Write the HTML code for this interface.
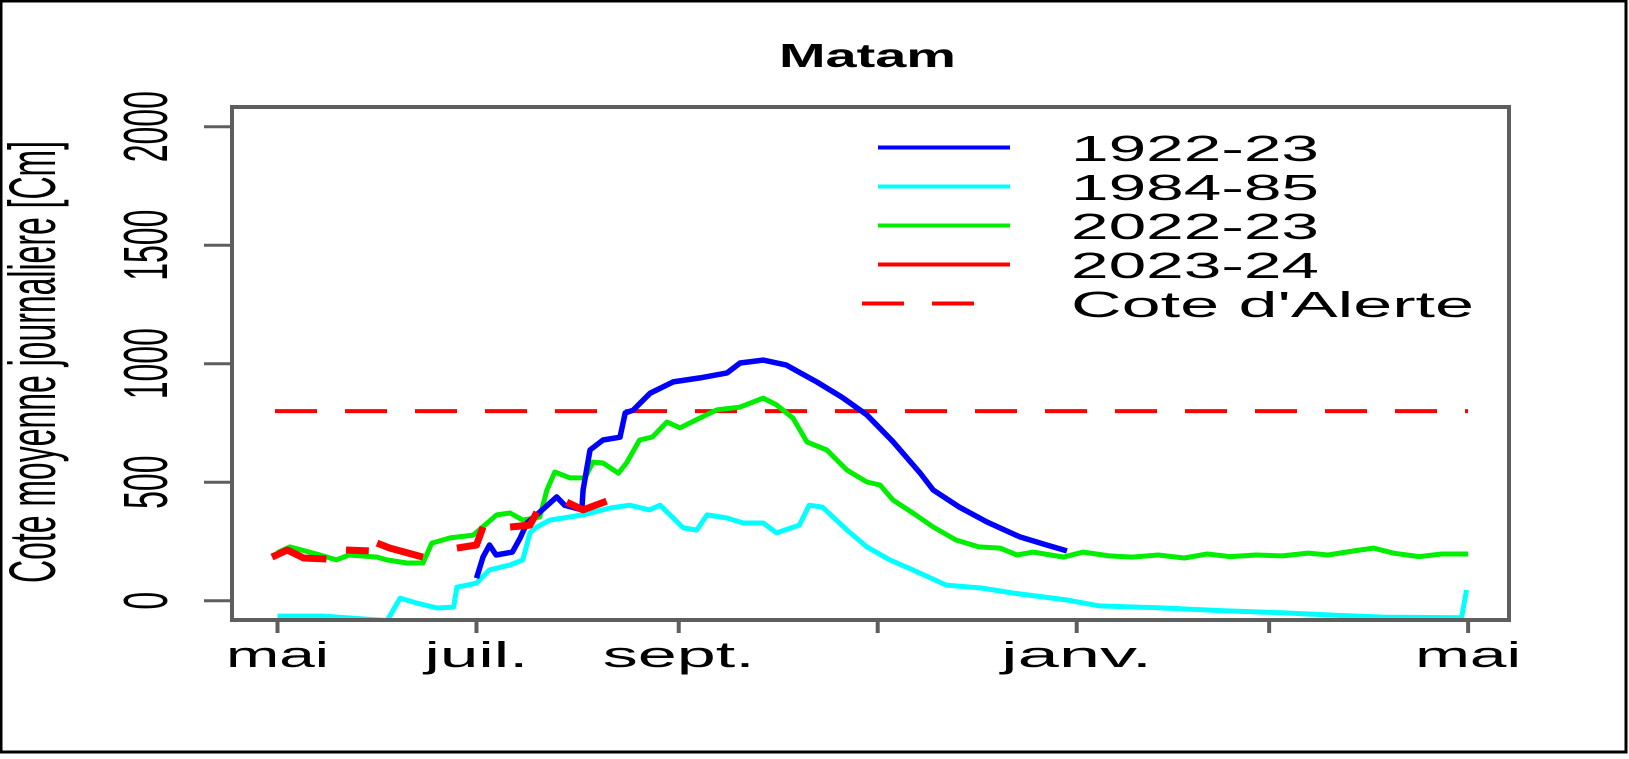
<!DOCTYPE html>
<html><head><meta charset="utf-8"><style>
html,body{margin:0;padding:0;background:#fff;}
svg{display:block;}
text{font-family:"Liberation Sans",sans-serif;fill:#000;}
</style></head><body>
<svg id="chart" width="1629" height="759" viewBox="0 0 1629 759">
<rect x="1" y="1" width="1625" height="751" fill="#fff" stroke="#000" stroke-width="3"/>
<defs><clipPath id="pc"><rect x="232" y="107" width="1277" height="513"/></clipPath></defs>
<text x="779" y="67" font-size="33" font-weight="bold" textLength="177" lengthAdjust="spacingAndGlyphs">Matam</text>
<text transform="translate(55,583) rotate(-90)" font-size="66" textLength="442" lengthAdjust="spacingAndGlyphs">Cote moyenne journaliere [Cm]</text>
<g id="series" clip-path="url(#pc)"></g>
<g id="axes"></g>
<g id="legend"></g>
</svg>
<script>
const xTickDays=[0,61,123,184,245,304,365];
const xTickLabels=["mai","juil.","sept.","","janv.","","mai"];
const xTickLabelWidths=[103,104,152,0,151,0,106];
const yTickVals=[0,500,1000,1500,2000];
const alertLevel=800;
const blueDays=[61,63,65,67,72,74.4,76.5,80.4,85.6,88,93.3,93.7,95.8,99.8,105,106.6,109,114.3,121.3,129.5,137.8,141.8,148.9,156,165.3,173,180.7,188.7,197,201,209,217.5,227.6,235.8,242];
const blueVals=[95,184,235,193,205,265,328,374,438,403,383,467,636,678,690,792,804,876,923,940,961,1003,1015,994,923,859,784,671,539,467,395,332,269,235,210];
const cyanDays=[0,14,33.6,37.6,42.7,48.9,54,55,61,65,71.3,75.2,77.4,79.5,83.5,93.7,102,108,114,117.3,124.4,128.5,131.7,137.8,142.8,148.9,153,160,163,167,174.6,180.7,187.7,194.8,205,216,225.6,242,252,270,290,308,325,339,363,364.5];
const cyanVals=[-65,-65,-84,11,-10,-31,-27,57,74,130,151,172,286,311,340,362,391,403,383,403,307,298,362,349,328,328,286,319,403,395,298,227,172,130,66,53,32,3,-22,-30,-42,-51,-62,-69,-72,45];
const greenDays=[0,3.8,12,18,22,30.5,33.5,39.7,44.6,47.3,52.9,60,67.2,71.3,75.2,80.4,82.6,85,89.7,94.3,96.7,99.8,104.5,107,111,115,119.4,123.4,129.5,134.7,141.8,148.9,153,158,162.3,168.4,174.6,180.7,184.7,188.7,194.8,201,208,215,221.5,226.7,231.7,241,247,255,262,270,278,285,292,300,308,316,322,330,336,342,350,357,365];
const greenVals=[203,227,197,172,193,184,172,159,159,243,265,277,362,370,340,353,467,543,518,518,585,581,538,581,678,691,754,729,771,805,817,855,826,771,670,636,551,501,488,425,370,311,256,227,222,193,205,184,205,189,184,193,180,197,186,193,189,201,193,210,222,201,186,197,197];
const redDays=[-1.7,3,8,15,null,21,28,null,30.5,34.5,44.6,null,55,61,63,null,71.3,77.4,79.5,null,88.7,93.7,100.9];
const redVals=[184,214,180,176,null,214,210,null,243,222,184,null,222,235,311,null,311,319,374,null,416,383,420];
const legendLabels=["1922-23","1984-85","2022-23","2023-24","Cote d'Alerte"];
const legendColors=["#0000ff","#00ffff","#00ee00","#ff0000","#ff0000"];

const NS="http://www.w3.org/2000/svg";
const xS=d=>277.5+d*3.262;
const yS=v=>600.7-v*0.237;
function mk(tag,attrs,parent){const e=document.createElementNS(NS,tag);for(const k in attrs)e.setAttribute(k,attrs[k]);parent.appendChild(e);return e;}
const sg=document.getElementById('series'),ag=document.getElementById('axes'),lg=document.getElementById('legend');

function pathOf(days,vals){let d="",pen=false;for(let i=0;i<days.length;i++){if(days[i]===null){pen=false;continue;}d+=(pen?"L":"M")+xS(days[i]).toFixed(1)+","+yS(vals[i]).toFixed(1);pen=true;}return d;}

const al=mk('line',{x1:275,x2:1468,y1:yS(alertLevel),y2:yS(alertLevel),stroke:'#ff0000','stroke-width':4,'stroke-dasharray':'42 28'},sg);


const specs=[[cyanDays,cyanVals,'#00ffff',5,'series-1984-85'],[greenDays,greenVals,'#00ee00',5,'series-2022-23'],[blueDays,blueVals,'#0000ff',5.5,'series-1922-23'],[redDays,redVals,'#ff0000',7,'series-2023-24']];
for(const s of specs){
  const p=mk('path',{d:pathOf(s[0],s[1]),fill:'none',stroke:s[2],'stroke-width':s[3],'stroke-linejoin':'round'},sg);
  
  
}
const fr=mk('rect',{x:232,y:107,width:1277,height:513,fill:'none',stroke:'#5e5e5e','stroke-width':4},ag);


yTickVals.forEach(v=>{
  const t=mk('line',{x1:204,x2:232,y1:yS(v),y2:yS(v),stroke:'#5e5e5e','stroke-width':3},ag);
  
  
  const s=String(v);
  const tx=mk('text',{transform:`translate(167,${yS(v)}) rotate(-90)`,'font-size':62,'text-anchor':'middle',textLength:s.length*17.8,lengthAdjust:'spacingAndGlyphs'},ag);
  tx.textContent=s;
  
  
});
xTickDays.forEach((d,i)=>{
  const t=mk('line',{x1:xS(d),x2:xS(d),y1:620,y2:633,stroke:'#5e5e5e','stroke-width':4},ag);
  
  
  const lab=xTickLabels[i];
  if(lab){
    const tx=mk('text',{x:xS(d),y:667,'font-size':36,'text-anchor':'middle',textLength:xTickLabelWidths[i],lengthAdjust:'spacingAndGlyphs'},ag);
    tx.textContent=lab;
    
    
  }
});
legendLabels.forEach((lab,i)=>{
  const y=147.5+i*39;
  const ln=mk('line',{x1:878,x2:1010,y1:y,y2:y,stroke:legendColors[i],'stroke-width':4},lg);
  if(i===4){ln.setAttribute('x1',862);ln.setAttribute('x2',990);ln.setAttribute('stroke-dasharray','42 28');}
  
  
  const tx=mk('text',{x:1071,y:y+13.5,'font-size':36,textLength:i===4?403:248,lengthAdjust:'spacingAndGlyphs'},lg);
  tx.textContent=lab;
  
  
});
</script>
</body></html>
